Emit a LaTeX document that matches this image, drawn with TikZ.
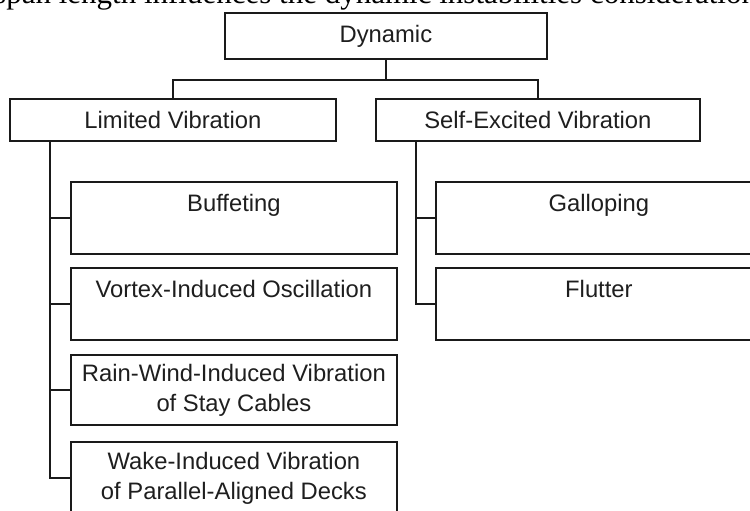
\documentclass[tikz,border=0pt]{standalone}
\usepackage{fontspec}
\setmainfont{Liberation Sans}
\newfontfamily\bodyserif{Liberation Serif}
\definecolor{linegray}{HTML}{1A1A1A}
\definecolor{textgray}{HTML}{1E1E1E}
\begin{document}
\begin{tikzpicture}[x=1pt,y=-1pt,
  frame/.style={draw=linegray, line width=1.8pt, rectangle, inner sep=0pt,
    anchor=north west, align=center, text=textgray,
    font=\fontsize{23.8}{30}\selectfont},
  head/.style={frame, minimum height=42pt},
  leaf/.style={frame, minimum width=326pt, minimum height=72pt},
  link/.style={draw=linegray, line width=1.8pt}]
\useasboundingbox (0,0) rectangle (750,511);
\clip (0,0) rectangle (750,511);

% line of running text above the chart
\node[anchor=base west, inner sep=0pt, text=black,
  font=\bodyserif\fontsize{31}{31}\selectfont] (caption) at (-6,4)
  {span length influences the dynamic instabilities considerations};

% headings
\node[head, minimum width=322pt, minimum height=46pt] (dyn) at (224,12) {Dynamic};
\node[head, minimum width=326pt] (lim) at (9,98) {Limited Vibration};
\node[head, minimum width=324pt] (self) at (375,98) {Self-Excited Vibration};

% limited vibration cases
\node[leaf] (buf) at (70,181) {Buffeting\\\mbox{}};
\node[leaf] (vortex) at (70,267) {Vortex-Induced Oscillation\\\mbox{}};
\node[leaf, minimum height=70pt] (rain) at (70,354) {Rain-Wind-Induced Vibration\\of Stay Cables};
\node[leaf] (wake) at (70,441) {Wake-Induced Vibration\\of Parallel-Aligned Decks};

% self-excited vibration cases
\node[leaf] (gallop) at (435,181) {Galloping\\\mbox{}};
\node[leaf] (flutter) at (435,267) {Flutter\\\mbox{}};

% connectors
\coordinate (bus) at ([yshift=-20pt]dyn.south);
\draw[link] (dyn.south) -- (bus);
\draw[link] (lim.north) |- (bus) -| (self.north);

\coordinate (ltrunk) at ([xshift=41pt]lim.south west);
\draw[link] (ltrunk) |- (wake.west);
\foreach \n in {buf,vortex,rain}
  \draw[link] (ltrunk) |- (\n.west);

\coordinate (rtrunk) at ([xshift=41pt]self.south west);
\draw[link] (rtrunk) |- (flutter.west);
\draw[link] (rtrunk) |- (gallop.west);
\end{tikzpicture}
\end{document}
